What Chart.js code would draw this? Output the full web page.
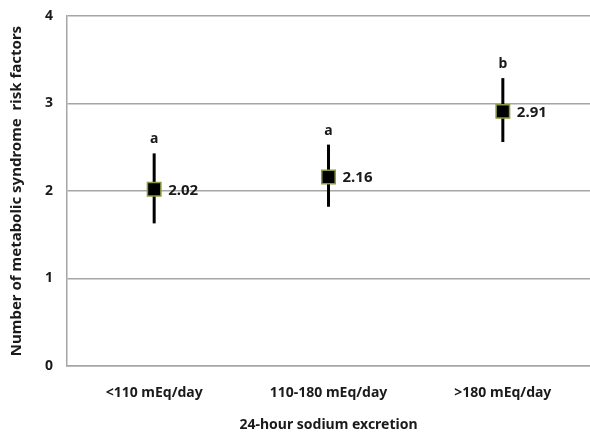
<!DOCTYPE html>
<html>
<head>
<meta charset="utf-8">
<script src="https://cdn.jsdelivr.net/npm/chart.js@4"></script>
<style>
  html, body { margin: 0; padding: 0; background: #fff; }
  #wrap { width: 590px; height: 434px; }
</style>
</head>
<body>
<div id="wrap"><canvas id="chart" width="590" height="434"></canvas></div>
<script>
const categories = ["<110 mEq/day", "110-180 mEq/day", ">180 mEq/day"];
const means = [2.02, 2.16, 2.91];
const upper = [2.43, 2.53, 3.29];
const lower = [1.63, 1.82, 2.56];
const letters = ["a", "a", "b"];
const yTicks = [0, 1, 2, 3, 4];

const FONT = "'Noto Sans', 'DejaVu Sans', sans-serif";

// pin the plot box to where it sits in the original figure
const areaPlugin = {
  id: "area",
  afterLayout(chart) {
    const L = 67, T = 16, R = 590, B = 366;
    const a = chart.chartArea;
    a.left = L; a.top = T; a.right = R; a.bottom = B;
    a.width = R - L; a.height = B - T;
    const x = chart.scales.x;
    x.left = L; x.right = R; x.width = R - L;
    x.top = B; x.bottom = 434; x.height = 434 - B;
    const y = chart.scales.y;
    y.left = 0; y.right = L; y.width = L;
    y.top = T; y.bottom = B; y.height = B - T;
    x.configure();
    y.configure();
  }
};

// error bars, value labels and the a/b letters, placed through the scales
const extrasPlugin = {
  id: "extras",
  beforeDatasetsDraw(chart) {
    const ctx = chart.ctx;
    const x = chart.scales.x;
    const y = chart.scales.y;
    ctx.save();
    ctx.strokeStyle = "#000";
    ctx.lineWidth = 3;
    means.forEach((m, i) => {
      const px = x.getPixelForValue(i);
      ctx.beginPath();
      ctx.moveTo(px, y.getPixelForValue(upper[i]));
      ctx.lineTo(px, y.getPixelForValue(lower[i]));
      ctx.stroke();
    });
    ctx.restore();
  },
  afterDatasetsDraw(chart) {
    const ctx = chart.ctx;
    const x = chart.scales.x;
    const y = chart.scales.y;
    ctx.save();
    ctx.fillStyle = "#1a1a1a";
    means.forEach((m, i) => {
      const px = x.getPixelForValue(i);
      ctx.font = "bold 15px " + FONT;
      ctx.textAlign = "left";
      ctx.textBaseline = "middle";
      ctx.fillText(m.toFixed(2), px + 14, y.getPixelForValue(m) + 1);
      ctx.font = "bold 14px " + FONT;
      ctx.textAlign = "center";
      ctx.textBaseline = "alphabetic";
      ctx.fillText(letters[i], px, y.getPixelForValue(upper[i]) - 10);
    });
    ctx.restore();
  }
};

new Chart(document.getElementById("chart").getContext("2d"), {
  type: "line",
  data: {
    labels: categories,
    datasets: [{
      data: means,
      showLine: false,
      pointStyle: "rect",
      pointRadius: 9.5,
      pointHoverRadius: 9.5,
      backgroundColor: "#000",
      borderColor: "#8a9a3c",
      borderWidth: 1.5
    }]
  },
  options: {
    responsive: false,
    animation: false,
    events: [],
    plugins: {
      legend: { display: false },
      tooltip: { enabled: false }
    },
    scales: {
      x: {
        offset: true,
        grid: { display: false },
        border: { display: true, color: "#a6a6a6", width: 1.5 },
        ticks: {
          padding: 11,
          color: "#1a1a1a",
          font: { family: FONT, size: 14, weight: "bold" }
        },
        title: {
          display: true,
          text: "24-hour sodium excretion",
          color: "#1a1a1a",
          padding: { top: 14, bottom: 1 },
          font: { family: FONT, size: 14, weight: "bold" }
        },
        afterFit(scale) { scale.height = 68; }
      },
      y: {
        min: 0,
        max: 4,
        afterBuildTicks(scale) { scale.ticks = yTicks.map(v => ({ value: v })); },
        grid: { color: "#a6a6a6", lineWidth: 1.5, drawTicks: false },
        border: { display: true, color: "#a6a6a6", width: 1.5 },
        ticks: {
          padding: 14,
          color: "#1a1a1a",
          font: { family: FONT, size: 14, weight: "bold" }
        },
        title: {
          display: true,
          text: "Number of metabolic syndrome  risk factors",
          color: "#1a1a1a",
          padding: { top: 8, bottom: 0 },
          font: { family: FONT, size: 15, weight: "bold" }
        },
        afterFit(scale) { scale.width = 67; }
      }
    }
  },
  plugins: [areaPlugin, extrasPlugin]
});
</script>
</body>
</html>
